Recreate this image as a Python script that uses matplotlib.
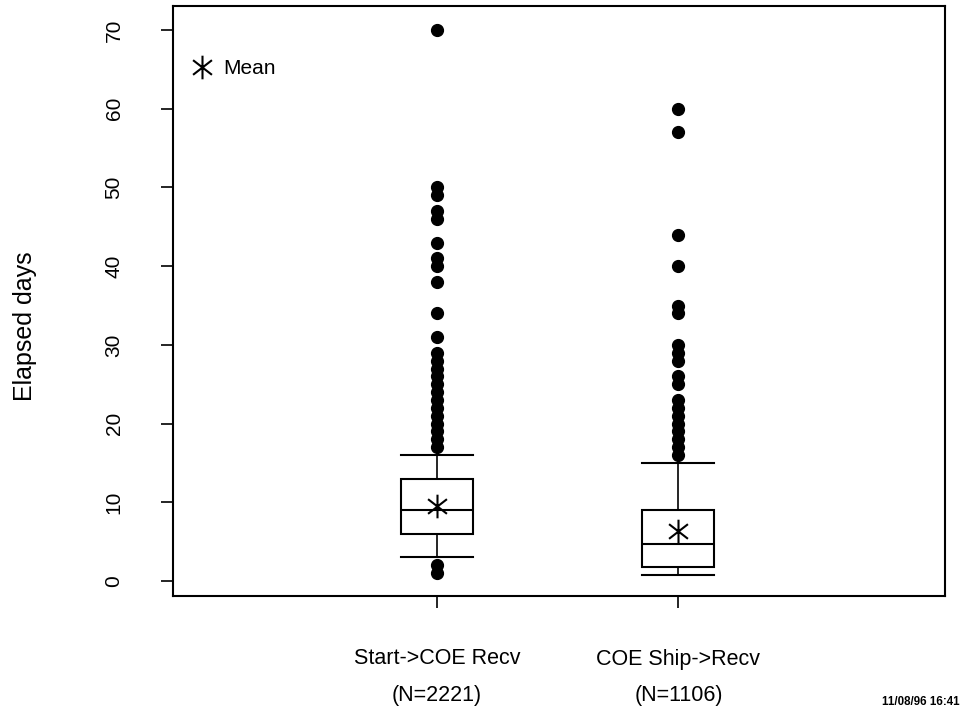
import matplotlib
matplotlib.use("Agg")
import matplotlib.pyplot as plt
from matplotlib.lines import Line2D
from matplotlib.path import Path

plt.rcParams['font.family'] = ['Liberation Sans', 'DejaVu Sans']

groups = ["Start->COE Recv", "COE Ship->Recv"]
counts = ["(N=2221)", "(N=1106)"]
q1 = [6.0, 1.8]
med = [9.0, 4.7]
q3 = [13.0, 9.0]
whislo = [3.0, 0.8]
whishi = [16.0, 15.0]
means = [9.5, 6.4]
fliers = [
    [1, 2, 17, 18, 19, 20, 21, 22, 23, 24, 25, 26, 27, 28, 29,
     31, 34, 38, 40, 41, 43, 46, 47, 49, 50, 70],
    [16, 17, 18, 19, 20, 21, 22, 23, 25, 26, 28, 29, 30,
     34, 35, 40, 44, 57, 60],
]
positions = [1, 2]

stats = []
for i in range(len(groups)):
    stats.append(dict(med=med[i], q1=q1[i], q3=q3[i], whislo=whislo[i],
                      whishi=whishi[i], mean=means[i], fliers=fliers[i]))

# asterisk: vertical stroke plus an x
star = Path([(0, -1), (0, 1), (-0.8, -0.62), (0.8, 0.62), (-0.8, 0.62), (0.8, -0.62)],
            [Path.MOVETO, Path.LINETO, Path.MOVETO, Path.LINETO, Path.MOVETO, Path.LINETO])

fig = plt.figure(figsize=(9.63, 7.15), dpi=100)
ax = fig.add_axes([173/963, 1-596/715, 772/963, 590/715])

ax.bxp(stats, positions=positions, widths=0.298, capwidths=0.298,
       showmeans=True, patch_artist=True,
       boxprops=dict(facecolor='white', edgecolor='black', linewidth=1.5),
       medianprops=dict(color='black', linewidth=1.5),
       whiskerprops=dict(color='black', linewidth=1.2),
       capprops=dict(color='black', linewidth=1.5),
       flierprops=dict(marker='o', markerfacecolor='black',
                       markeredgecolor='black', markersize=8.5),
       meanprops=dict(marker=star, markeredgecolor='black',
                      markerfacecolor='none', markersize=17,
                      markeredgewidth=1.5))

ax.set_xlim(-0.093, 3.104)
ax.set_ylim(-1.9, 73.05)
ax.set_yticks(range(0, 71, 10))
ax.set_xticks(positions)
ax.set_xticklabels([])
ax.tick_params(axis='both', length=8.6, width=1.2, labelsize=15)
ax.tick_params(axis='y', pad=27, labelrotation=90)
for lab in ax.get_yticklabels():
    lab.set_va('center')
for s in ax.spines.values():
    s.set_linewidth(1.5)

for p, g, n in zip(positions, groups, counts):
    ax.text(p, -63/590, g, transform=ax.get_xaxis_transform(),
            ha='center', va='center', fontsize=15.5)
    ax.text(p, -100/590, n, transform=ax.get_xaxis_transform(),
            ha='center', va='center', fontsize=15.5)

fig.text(25/963, 1-326/715, "Elapsed days", rotation=90,
         ha='center', va='center', fontsize=18)

ax.legend(handles=[Line2D([], [], marker=star, ls='none', color='black',
                          markerfacecolor='none', markersize=17,
                          markeredgewidth=1.5)],
          labels=["Mean"], loc='upper left', bbox_to_anchor=(0.024, 0.91),
          frameon=False, handlelength=1.0, handletextpad=0.5,
          borderpad=0, borderaxespad=0, fontsize=15)

fig.text(960/963, 1-702/715, "11/08/96 16:41", fontsize=8.3,
         fontweight='bold', va='center', ha='right')

fig.savefig("out.png", dpi=100)
